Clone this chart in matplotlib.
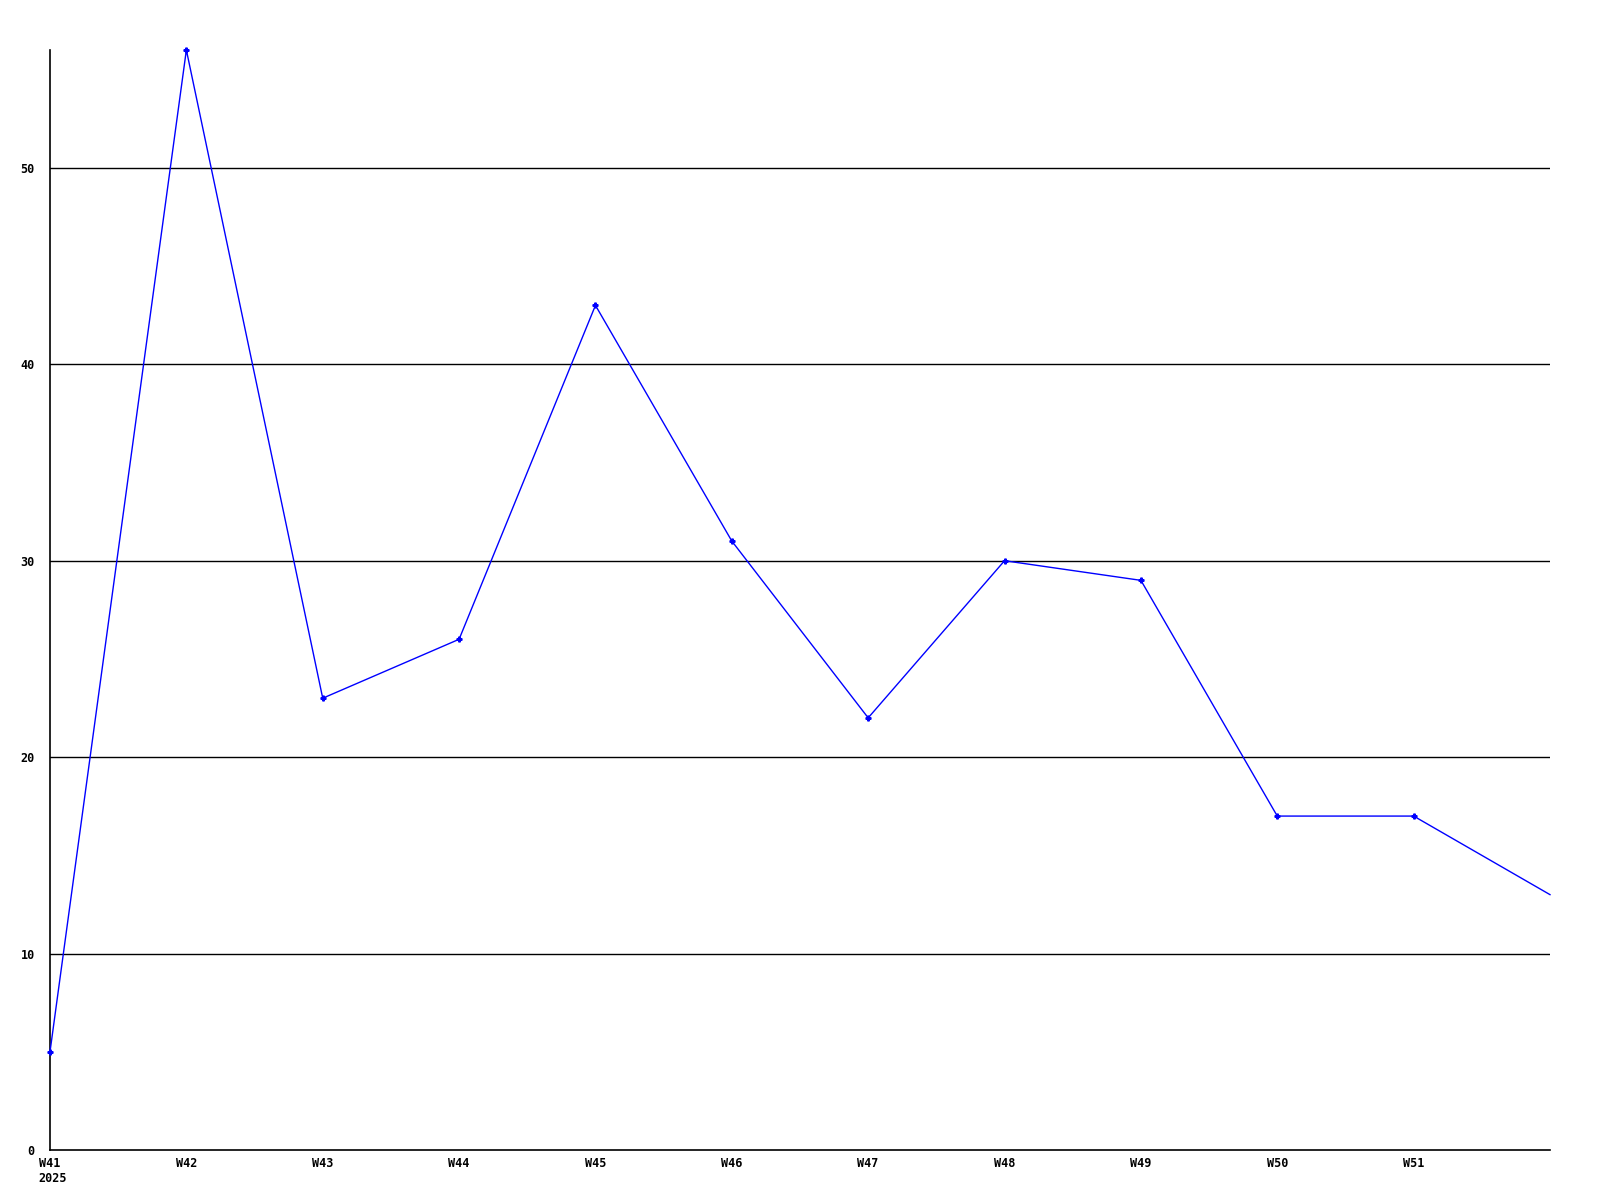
import matplotlib
matplotlib.use("Agg")
import matplotlib.pyplot as plt
import matplotlib.transforms as mtransforms

weeks = ["W41", "W42", "W43", "W44", "W45", "W46", "W47", "W48", "W49", "W50", "W51"]
year_label = "2025"
values = [5, 56, 23, 26, 43, 31, 22, 30, 29, 17, 17, 13]
yticks = [0, 10, 20, 30, 40, 50]

FS = 8.5

fig = plt.figure(figsize=(16, 12), dpi=100)
ax = fig.add_axes([50/1600, 1 - 1150/1200, 1500/1600, 1100/1200])

x = list(range(len(values)))
ax.plot(x, values, color="#0000ff", linewidth=1.0, marker="P", markersize=3.5,
        markevery=list(range(len(values) - 1)), zorder=3, clip_on=False)

ax.set_xlim(0, len(values) - 1)
ax.set_ylim(0, 56)
ax.set_yticks(yticks)
ax.set_yticklabels([str(t) for t in yticks])
ax.set_xticks(range(len(weeks)))
ax.set_xticklabels(weeks)
for t in yticks[1:]:
    ax.axhline(t, color="black", linewidth=1.0, zorder=1)

for s in ["top", "right"]:
    ax.spines[s].set_visible(False)
for s in ["left", "bottom"]:
    ax.spines[s].set_linewidth(1.2)
    ax.spines[s].set_color("black")

ax.tick_params(axis="y", length=0, pad=11, labelsize=FS)
ax.tick_params(axis="x", length=0, pad=5, labelsize=FS)
for lab in ax.get_xticklabels() + ax.get_yticklabels():
    lab.set_fontfamily("DejaVu Sans Mono")
    lab.set_fontweight("bold")

trans = mtransforms.offset_copy(ax.get_xaxis_transform(), fig=fig, x=-12, y=-22, units="dots")
ax.text(0, 0, year_label, transform=trans, ha="left", va="top",
        fontsize=FS, fontweight="bold", fontfamily="DejaVu Sans Mono")

fig.savefig("out.png", dpi=100, facecolor="white")
